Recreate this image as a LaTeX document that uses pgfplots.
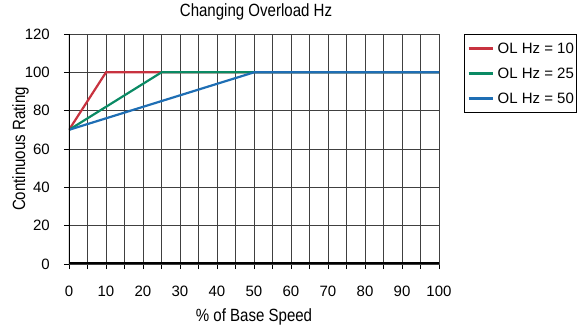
\documentclass[border=0pt]{standalone}
\usepackage{fontspec}
\setmainfont{Liberation Sans}
\newfontfamily\condfont[FakeStretch=0.85]{Liberation Sans}
\usepackage{pgfplots}
\pgfplotsset{compat=1.18}
\definecolor{olred}{HTML}{C8323F}
\definecolor{olgreen}{HTML}{0A8A64}
\definecolor{olblue}{HTML}{1E6EB4}
\newcommand{\cf}{\fontsize{15bp}{18bp}\selectfont}
\newcommand{\lf}{\condfont\fontsize{17.7bp}{20bp}\selectfont}
\begin{document}
\cf
\begin{tikzpicture}
\begin{axis}[
  scale only axis, width=370bp, height=230bp,
  at={(0,0)}, anchor=south west,
  xmin=0, xmax=100, ymin=0, ymax=120,
  xtick={0,10,...,100}, minor xtick={5,15,...,95},
  ytick={0,20,...,120},
  grid=both,
  grid style={black!75, line width=0.9bp},
  minor grid style={black!75, line width=0.9bp},
  major grid style={black!75, line width=0.9bp},
  axis line style={black!75, line width=0.9bp},
  tick style={black, line width=0.9bp},
  tick align=outside,
  major tick length=5bp, minor tick length=5bp,
  xtick pos=bottom, ytick pos=left,
  /pgf/number format/assume math mode=true,
  ticklabel style={font=\cf},
  xticklabel style={anchor=base, yshift=-27bp},
  yticklabel style={anchor=east, xshift=-9bp},
  title={Changing Overload Hz},
  title style={font=\lf, at={(axis description cs:0.5,1)}, anchor=base, yshift=11.3bp, xshift=2bp},
  xlabel={\% of Base Speed},
  xlabel style={font=\lf, at={(axis description cs:0.5,0)}, anchor=base, yshift=-57bp},
  ylabel={Continuous Rating},
  ylabel style={font=\lf, at={(axis description cs:-44/370,0.5)}, anchor=base, rotate=0},
  legend style={at={(axis description cs:395/370,230/230)}, anchor=north west,
    draw=black, line width=0.9bp, font=\cf,
    inner xsep=3bp, inner ysep=8.5bp, row sep=14bp, column sep=4bp,
    nodes={inner sep=0bp, text height=11bp, text depth=0bp}},
  legend cell align=left,
  legend image code/.code={\draw[#1, line width=2.2bp] (0bp,0bp) -- (24bp,0bp);},
]
\addplot[olred, line width=2.2bp] coordinates {(0,70) (10,100) (100,100)};
\addlegendentry{OL Hz = 10}
\addplot[olgreen, line width=2.2bp] coordinates {(0,70) (25,100) (100,100)};
\addlegendentry{OL Hz = 25}
\addplot[olblue, line width=2.2bp] coordinates {(0,70) (50,100) (100,100)};
\addlegendentry{OL Hz = 50}
\draw[black, line width=3bp] (rel axis cs:0,1) -- (rel axis cs:0,0) -- (rel axis cs:1,0);
\end{axis}
\pgfresetboundingbox
\path (-69bp,-62bp) rectangle (512bp,264bp);
\end{tikzpicture}
\end{document}
